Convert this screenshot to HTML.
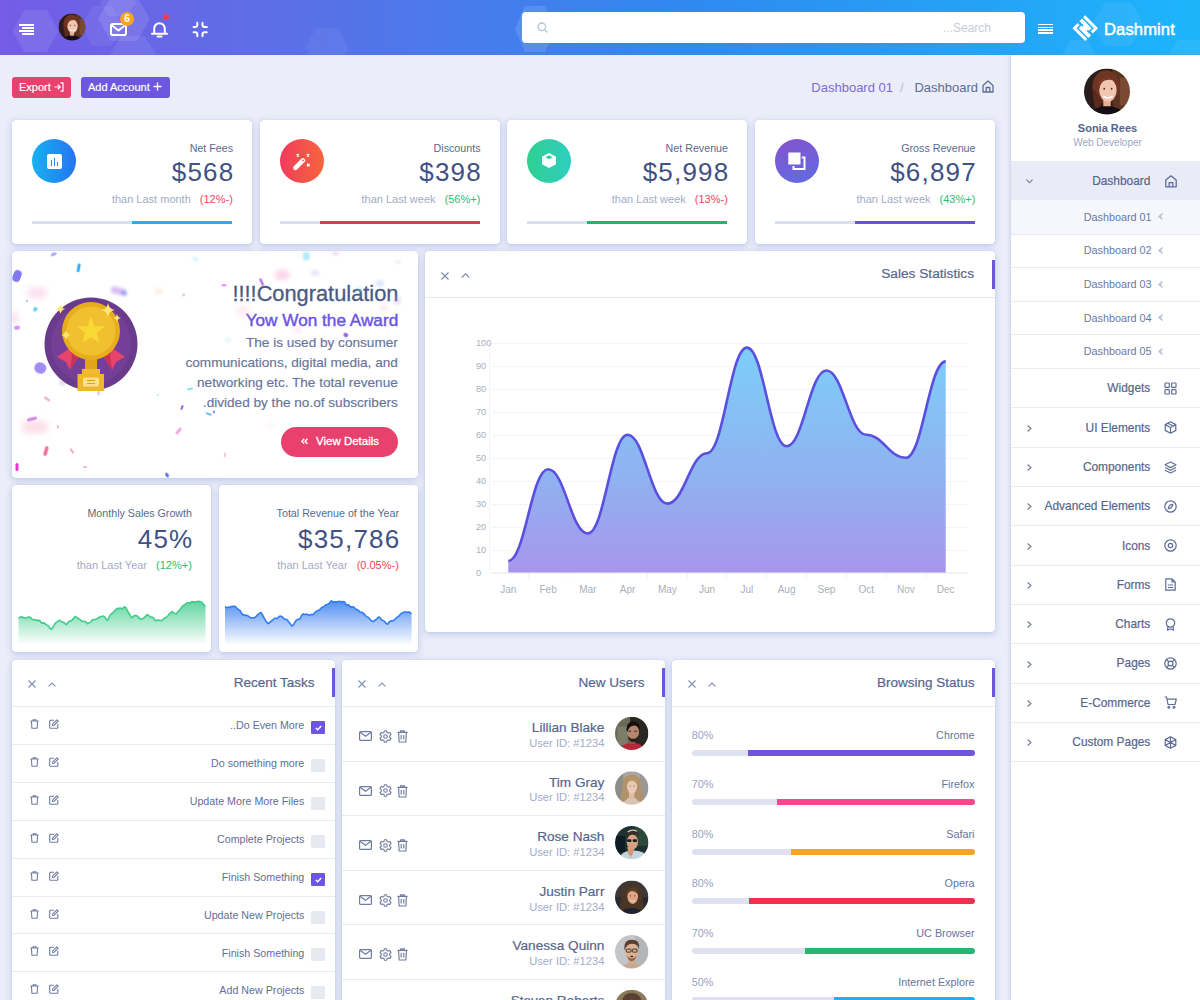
<!DOCTYPE html>
<html><head><meta charset="utf-8">
<style>
*{box-sizing:border-box;margin:0;padding:0}
html,body{width:1200px;height:1000px;overflow:hidden}
body{background:#ebedf8;font-family:"Liberation Sans",sans-serif;color:#4d5d88;position:relative}
.abs{position:absolute}
.hdr{position:absolute;left:0;top:0;width:1200px;height:55px;background:linear-gradient(90deg,#755ce6 0%,#5a70e8 25%,#2f8af0 58%,#1db5fb 100%);overflow:hidden}
.hex{position:absolute;background:rgba(255,255,255,.09);clip-path:polygon(25% 0,75% 0,100% 50%,75% 100%,25% 100%,0 50%)}
.card{position:absolute;background:#fff;border-radius:4px;box-shadow:0 0 1px rgba(100,130,200,.4),0 2px 7px rgba(80,120,210,.3)}
.t{position:absolute;white-space:nowrap;line-height:1}
.r{text-align:right}
svg{position:absolute;overflow:visible}
.sc{width:240px;height:124px}
.sc .ic{position:absolute;left:20px;top:19px;width:44px;height:44px;border-radius:50%}
.sc .ti{position:absolute;right:19px;top:23px;font-size:10.7px;line-height:1;color:#5a6a90;white-space:nowrap}
.sc .va{position:absolute;right:18.8px;top:39px;font-size:26px;line-height:1;color:#3f5185;letter-spacing:1.2px;margin-right:-1.2px;white-space:nowrap}
.sc .su{position:absolute;right:19.2px;top:73.8px;font-size:11px;line-height:1;color:#a3abc6;white-space:nowrap}
.rd{color:#f2445c;margin-left:9px}
.gr{color:#2fbd74;margin-left:9px}
.sc .pb{position:absolute;left:20px;top:101px;width:200px;height:3px;background:#dcdff0;overflow:hidden}
.sc .pb div{position:absolute;top:0;right:0;height:3px}
.pn .pbar{position:absolute;right:0;top:8px;width:3px;height:29px;background:#6e57e0}
.pn .pt{position:absolute;right:20.5px;top:16px;font-size:13.5px;line-height:1;color:#56668e;white-space:nowrap;-webkit-text-stroke:.2px #56668e}
.sep{position:absolute;left:0;width:100%;height:1px;background:#e8ebf4}
.tk{right:30.7px;font-size:10.7px;color:#5f6e96}
.un{right:60.6px;font-size:13.6px;color:#56668e;-webkit-text-stroke:.2px #56668e}
.ui{right:60.6px;font-size:11.2px;color:#a3acc8}
.bp{font-size:10.8px;color:#98a2bf}
.bn{right:20.5px;font-size:10.8px;color:#66749a}
.sm{right:49.7px;font-size:11.9px;color:#56668e;-webkit-text-stroke:.2px #56668e}
.ss{right:48.4px;font-size:10.8px;color:#6a789e}

</style></head><body>
<!-- HEADER -->
<div class="hdr">
  <div class="hex" style="left:12.5px;top:10px;width:46px;height:42px"></div>
  <div class="hex" style="left:98px;top:-3px;width:52px;height:44px;background:rgba(255,255,255,.11)"></div>
  <div class="hex" style="left:82px;top:6px;width:40px;height:40px;background:rgba(255,255,255,.06)"></div>
  <div class="hex" style="left:110px;top:36px;width:46px;height:36px;background:rgba(255,255,255,.08)"></div>
  <div class="hex" style="left:100px;top:-10px;width:36px;height:26px;background:rgba(255,255,255,.07)"></div>
  <div class="hex" style="left:515px;top:6px;width:40px;height:46px;background:rgba(255,255,255,.12)"></div>
  <div class="hex" style="left:305px;top:28px;width:44px;height:40px;background:rgba(255,255,255,.05)"></div>
  <div class="hex" style="left:1092px;top:2px;width:52px;height:44px;background:rgba(255,255,255,.06)"></div><div class="hex" style="left:1168px;top:40px;width:40px;height:30px;background:rgba(255,255,255,.06)"></div>
  <div class="hex" style="left:1062px;top:40px;width:34px;height:30px;background:rgba(255,255,255,.07)"></div>
  <!-- hamburger left -->
  <div class="abs" style="left:19px;top:24px;width:15px;height:1.6px;background:#fff"></div>
  <div class="abs" style="left:22px;top:27px;width:12px;height:1.6px;background:#fff"></div>
  <div class="abs" style="left:19px;top:30px;width:15px;height:1.6px;background:#fff"></div>
  <div class="abs" style="left:22px;top:33px;width:12px;height:1.6px;background:#fff"></div>
  <!-- avatar -->
  <!-- mail -->
  <svg style="left:110px;top:23px" width="17" height="13" viewBox="0 0 17 13"><rect x="1" y="1" width="15" height="11" rx="1.8" fill="none" stroke="#fff" stroke-width="2"/><path d="M1.5 2 L8.5 7.5 L15.5 2" fill="none" stroke="#fff" stroke-width="2" stroke-linejoin="round"/></svg>
  <div class="abs" style="left:120px;top:12px;width:14px;height:14px;border-radius:50%;background:#f5a524;color:#fff;font:bold 10px/14px 'Liberation Sans',sans-serif;text-align:center">6</div>
  <!-- bell -->
  <svg style="left:151px;top:21px" width="17" height="17" viewBox="0 0 17 17"><path d="M3.2 12.5 V7.5 A5.3 5.3 0 0 1 13.8 7.5 V12.5" fill="none" stroke="#fff" stroke-width="2"/><path d="M1 12.8 H16" stroke="#fff" stroke-width="2" stroke-linecap="round"/><path d="M6.5 15.5 H10.5" stroke="#fff" stroke-width="2" stroke-linecap="round"/></svg>
  <div class="abs" style="left:162.5px;top:14px;width:6px;height:6px;border-radius:50%;background:#f23a4e"></div>
  <!-- compress -->
  <svg style="left:192px;top:22px" width="16" height="15" viewBox="0 0 16 15"><path d="M5.3 0.8 V3 Q5.3 5 3.3 5 H1.6 M10.5 0.8 V3 Q10.5 5 12.5 5 H14.8 M1.6 10.3 H3.3 Q5.3 10.3 5.3 12.3 V14.3 M14.8 10.3 H12.5 Q10.5 10.3 10.5 12.3 V14.3" fill="none" stroke="#fff" stroke-width="2" stroke-linecap="round"/></svg>
  <!-- search -->
  <div class="abs" style="left:522px;top:12px;width:503px;height:31px;background:#fff;border-radius:4px"></div>
  <svg style="left:537px;top:22px" width="11" height="11" viewBox="0 0 11 11"><circle cx="4.8" cy="4.8" r="3.8" fill="none" stroke="#b9bfd3" stroke-width="1.3"/><path d="M7.6 7.6 L10 10" stroke="#b9bfd3" stroke-width="1.3" stroke-linecap="round"/></svg>
  <div class="t" style="left:900px;top:22px;width:91px;text-align:right;font-size:12px;color:#c6cbdb">...Search</div>
  <!-- hamburger right -->
  <div class="abs" style="left:1038px;top:23.5px;width:15px;height:1.7px;background:#fff"></div>
  <div class="abs" style="left:1038px;top:26.5px;width:15px;height:1.7px;background:#fff"></div>
  <div class="abs" style="left:1038px;top:29.3px;width:15px;height:1.7px;background:#fff"></div>
  <div class="abs" style="left:1038px;top:32.2px;width:15px;height:1.7px;background:#fff"></div>
  <!-- logo -->
  <svg style="left:0;top:0" width="1200" height="55"><g transform="translate(1085.2 28.2) rotate(45)" fill="#fff"><path d="M-9.1 -9.1 H9.1 V-1.6 H6.1 V-6.1 H-9.1 Z"/><path d="M9.1 9.1 H-9.1 V1.6 H-6.1 V6.1 H9.1 Z"/><path d="M-9.1 -4.6 H4.6 V-0.9 H3 V0.9 H9.1 V4.6 H-4.6 V0.9 H-3 V-0.9 H-9.1 Z"/></g></svg>
  <div class="t" style="left:1104px;top:21.5px;font-size:16.6px;color:#fff;-webkit-text-stroke:.5px #fff;letter-spacing:.1px">Dashmint</div>
</div>
<!-- TOOLBAR -->
<div class="abs" style="left:12px;top:77px;width:59px;height:21px;background:#e8416e;border-radius:3px"></div>
<div class="t" style="left:19px;top:82px;font-size:11px;color:#fff;-webkit-text-stroke:.2px #fff">Export</div>
<svg style="left:54px;top:82px" width="10" height="10" viewBox="0 0 10 10"><path d="M0.5 5 H6 M3.8 2.6 L6.2 5 L3.8 7.4 M6.5 0.8 H9 V9.2 H6.5" fill="none" stroke="#fff" stroke-width="1.2"/></svg>
<div class="abs" style="left:81px;top:77px;width:89px;height:21px;background:#6e57e0;border-radius:3px"></div>
<div class="t" style="left:88px;top:82px;font-size:11px;color:#fff;-webkit-text-stroke:.2px #fff">Add Account</div>
<svg style="left:153px;top:82px" width="9" height="9" viewBox="0 0 9 9"><path d="M4.5 0.5 V8.5 M0.5 4.5 H8.5" fill="none" stroke="#fff" stroke-width="1.3"/></svg>
<!-- breadcrumb -->
<div class="t" style="left:760px;top:81px;width:133px;text-align:right;font-size:13px;color:#7c6bd6">Dashboard 01</div>
<div class="t" style="left:900px;top:81px;font-size:13px;color:#b7bdd4">/</div>
<div class="t" style="left:850px;top:81px;width:128px;text-align:right;font-size:13px;color:#5d6c93">Dashboard</div>
<svg style="left:982px;top:80px" width="12" height="13" viewBox="0 0 12 13"><path d="M1 5.5 L6 1 L11 5.5 V12 H1 Z M4.2 12 V7.5 H7.8 V12" fill="none" stroke="#5d6c93" stroke-width="1.3" stroke-linejoin="round"/></svg>
<!-- STAT CARDS -->
<div class="card sc" style="left:12px;top:120px">
  <div class="ic" style="background:linear-gradient(90deg,#17b2f2,#2574f0)"><div class="abs" style="left:14.5px;top:14.5px;width:15px;height:15px;background:#fff;border-radius:2px"><div class="abs" style="left:4px;top:6px;width:1.6px;height:6px;background:#2a8cf0"></div><div class="abs" style="left:7px;top:4px;width:1.6px;height:8px;background:#2a8cf0"></div><div class="abs" style="left:10px;top:8px;width:1.6px;height:4px;background:#2a8cf0"></div></div></div>
  <div class="ti">Net Fees</div><div class="va">$568</div>
  <div class="su">than Last month<span class="rd">(12%-)</span></div>
  <div class="pb"><div style="left:50%;background:#1cb3f0"></div></div>
</div>
<div class="card sc" style="left:259.5px;top:120px">
  <div class="ic" style="background:linear-gradient(90deg,#f13c5e,#f6663b)"><svg style="left:12px;top:12px" width="20" height="20" viewBox="0 0 20 20"><rect x="-2.3" y="-7.5" width="4.6" height="15" rx="2.2" fill="#fff" transform="translate(7.2 13.2) rotate(45)"/><circle cx="11" cy="9.4" r="0.9" fill="#f2505a"/><path d="M4.6 3.1 L7 5.5 M7 3.1 L4.6 5.5 M14.8 3.1 L17.2 5.5 M17.2 3.1 L14.8 5.5 M15.1 12.8 L17.5 15.2 M17.5 12.8 L15.1 15.2" stroke="#fff" stroke-width="1.3"/></svg></div>
  <div class="ti">Discounts</div><div class="va">$398</div>
  <div class="su">than Last week<span class="gr">(56%+)</span></div>
  <div class="pb"><div style="left:20%;background:#e9344f"></div></div>
</div>
<div class="card sc" style="left:507px;top:120px">
  <div class="ic" style="background:linear-gradient(90deg,#2fcf92,#2fcec0)"><svg style="left:14px;top:13px" width="16" height="17" viewBox="0 0 16 17"><path d="M8 1 L15 4.8 V12.2 L8 16 L1 12.2 V4.8 Z" fill="#fff"/><path d="M8 3.3 L11.6 5.3 L8 7.3 L4.4 5.3 Z" fill="#30cfa8"/></svg></div>
  <div class="ti">Net Revenue</div><div class="va">$5,998</div>
  <div class="su">than Last week<span class="rd">(13%-)</span></div>
  <div class="pb"><div style="left:30%;background:#27b56e"></div></div>
</div>
<div class="card sc" style="left:754.5px;top:120px">
  <div class="ic" style="background:linear-gradient(160deg,#8652cf,#5e6de0)"><svg style="left:13px;top:13px" width="18" height="18" viewBox="0 0 18 18"><rect x="0.3" y="0.5" width="12.2" height="12" fill="#fff"/><path d="M13.8 5.4 H16.5 V16.9 H5.5 V14" fill="none" stroke="#fff" stroke-width="2"/></svg></div>
  <div class="ti">Gross Revenue</div><div class="va">$6,897</div>
  <div class="su">than Last week<span class="gr">(43%+)</span></div>
  <div class="pb"><div style="left:40%;background:#6b52de"></div></div>
</div>

<!-- ROW 2 -->
<div class="card" style="left:12px;top:251px;width:406px;height:227px;overflow:hidden" id="congrats">
  <div class="t" style="right:19.6px;top:31.9px;font-size:21.8px;color:#4a5a84;-webkit-text-stroke:.3px #4a5a84">!!!!Congratulation</div>
  <div class="t" style="right:19.8px;top:60.8px;font-size:17.2px;color:#6c55e0;-webkit-text-stroke:.45px #6c55e0">Yow Won the Award</div>
  <div class="abs" style="right:20.2px;top:82.3px;width:300px;text-align:right;font-size:13.6px;line-height:20px;color:#66749b;-webkit-text-stroke:.15px #66749b">The is used by consumer<br>communications, digital media, and<br>networking etc. The total revenue<br>.divided by the no.of subscribers</div>
  <div class="abs" style="left:269px;top:175.6px;width:116.6px;height:30.4px;border-radius:15.2px;background:#e8416e"></div>
  <div class="t" style="left:304px;top:184.8px;font-size:11.5px;color:#fff;-webkit-text-stroke:.3px #fff">View Details</div>
  <svg style="left:288.5px;top:187px" width="7" height="7" viewBox="0 0 7 7"><path d="M3.2 0.8 L0.9 3.3 L3.2 5.8 M6.4 0.8 L4.1 3.3 L6.4 5.8" fill="none" stroke="#fff" stroke-width="1.4"/></svg>
</div>
<div class="card" style="left:425px;top:251px;width:570px;height:381px" id="sales">
  <div class="abs" style="left:0;top:46px;width:570px;height:1px;background:#e6e9f3"></div>
  <div class="abs" style="left:567px;top:9px;width:3px;height:29px;background:#6e57e0"></div>
  <div class="t" style="right:21px;top:267.2px;top:16.2px;font-size:13.7px;color:#56668e;-webkit-text-stroke:.2px #56668e">Sales Statistics</div>
  <svg style="left:15.5px;top:21px" width="8" height="8" viewBox="0 0 8 8"><path d="M0.5 0.5 L7.5 7.5 M7.5 0.5 L0.5 7.5" stroke="#7f8bb0" stroke-width="1.2"/></svg>
  <svg style="left:35.5px;top:22px" width="9" height="5" viewBox="0 0 9 5"><path d="M0.7 4.5 L4.5 0.8 L8.3 4.5" fill="none" stroke="#7f8bb0" stroke-width="1.2"/></svg>
</div>
<div class="card sc" style="left:12px;top:485px;width:199px;height:167px">
  <div class="ti">Monthly Sales Growth</div><div class="va" style="top:41px">45%</div>
  <div class="su" style="top:75px">than Last Year<span class="gr">(12%+)</span></div>
</div>
<div class="card sc" style="left:218.5px;top:485px;width:199.5px;height:167px">
  <div class="ti">Total Revenue of the Year</div><div class="va" style="top:41px">$35,786</div>
  <div class="su" style="top:75px">than Last Year<span class="rd">(0.05%-)</span></div>
</div>
<!-- OVERLAY SVG (page coords) -->
<svg style="left:0;top:0" width="1200" height="1000" viewBox="0 0 1200 1000">
  <defs>
    <linearGradient id="gS" x1="0" y1="343" x2="0" y2="572.5" gradientUnits="userSpaceOnUse"><stop offset="0" stop-color="#7ccff8"/><stop offset="0.6" stop-color="#90b1f0"/><stop offset="1" stop-color="#a895ec"/></linearGradient>
    <linearGradient id="gG" x1="0" y1="600" x2="0" y2="645" gradientUnits="userSpaceOnUse"><stop offset="0" stop-color="#3fcb8a" stop-opacity=".85"/><stop offset="1" stop-color="#3fcb8a" stop-opacity="0"/></linearGradient>
    <linearGradient id="gB" x1="0" y1="600" x2="0" y2="645" gradientUnits="userSpaceOnUse"><stop offset="0" stop-color="#3a7ff0" stop-opacity=".9"/><stop offset="1" stop-color="#3a7ff0" stop-opacity="0"/></linearGradient>
    <clipPath id="cC"><rect x="12" y="251" width="406" height="227" rx="4"/></clipPath>
  </defs>
  <!-- sales chart grid -->
  <g stroke="#f3f4f9" stroke-width="1">
    <path d="M491 343.5 H968 M491 366.5 H968 M491 389.5 H968 M491 412.5 H968 M491 435.5 H968 M491 458.5 H968 M491 481.5 H968 M491 504.5 H968 M491 527.5 H968 M491 550.5 H968"/>
    <path d="M489.5 343 V573" />
  </g>
  <path d="M491 573 H968" stroke="#e3e6ef" stroke-width="1"/>
  <g stroke="#eef0f5"><path d="M528.5 573 V578 M568 573 V578 M608 573 V578 M647.5 573 V578 M687.5 573 V578 M727 573 V578 M767 573 V578 M806.5 573 V578 M846.5 573 V578 M886 573 V578 M926 573 V578"/></g>
  <g font-family="Liberation Sans" font-size="9.2" fill="#a9afc0">
    <text x="476" y="346">100</text><text x="476" y="369">90</text><text x="476" y="392">80</text><text x="476" y="415">70</text><text x="476" y="438">60</text><text x="476" y="461">50</text><text x="476" y="484">40</text><text x="476" y="507">30</text><text x="476" y="530">20</text><text x="476" y="553">10</text><text x="476" y="576">0</text>
  </g>
  <g font-family="Liberation Sans" font-size="10" fill="#a9afc0" text-anchor="middle">
    <text x="508.3" y="593.3">Jan</text><text x="548.1" y="593.3">Feb</text><text x="587.8" y="593.3">Mar</text><text x="627.6" y="593.3">Apr</text><text x="667.4" y="593.3">May</text><text x="707.1" y="593.3">Jun</text><text x="746.9" y="593.3">Jul</text><text x="786.6" y="593.3">Aug</text><text x="826.4" y="593.3">Sep</text><text x="866.2" y="593.3">Oct</text><text x="905.9" y="593.3">Nov</text><text x="945.7" y="593.3">Dec</text>
  </g>
  <path d="M508.3,561.0 C525.0,561.0 531.4,469.2 548.1,469.2 C564.8,469.2 571.1,533.5 587.8,533.5 C604.5,533.5 610.9,434.8 627.6,434.8 C644.3,434.8 650.7,503.6 667.4,503.6 C684.1,503.6 690.4,453.2 707.1,453.2 C723.8,453.2 730.2,347.6 746.9,347.6 C763.6,347.6 769.9,446.3 786.6,446.3 C803.3,446.3 809.7,370.5 826.4,370.5 C843.1,370.5 849.5,434.8 866.2,434.8 C882.9,434.8 889.2,457.8 905.9,457.8 C922.6,457.8 929.0,361.4 945.7,361.4 L945.7,572.5 L508.3,572.5 Z" fill="url(#gS)"/>
  <path d="M508.3,561.0 C525.0,561.0 531.4,469.2 548.1,469.2 C564.8,469.2 571.1,533.5 587.8,533.5 C604.5,533.5 610.9,434.8 627.6,434.8 C644.3,434.8 650.7,503.6 667.4,503.6 C684.1,503.6 690.4,453.2 707.1,453.2 C723.8,453.2 730.2,347.6 746.9,347.6 C763.6,347.6 769.9,446.3 786.6,446.3 C803.3,446.3 809.7,370.5 826.4,370.5 C843.1,370.5 849.5,434.8 866.2,434.8 C882.9,434.8 889.2,457.8 905.9,457.8 C922.6,457.8 929.0,361.4 945.7,361.4" fill="none" stroke="#5b4fdf" stroke-width="2.6"/>
  <!-- sparklines -->
  <path d="M18.5,617.7 L19.5,617.7 L20.6,617.0 L21.6,616.7 L22.7,617.2 L23.7,617.8 L24.8,618.0 L25.8,618.1 L26.9,617.8 L27.9,617.2 L28.9,616.9 L30.0,617.3 L31.0,618.1 L32.1,619.2 L33.1,619.5 L34.2,619.9 L35.2,619.7 L36.3,620.0 L37.3,620.6 L38.3,620.4 L39.4,620.3 L40.4,621.6 L41.5,622.9 L42.5,622.9 L43.6,622.7 L44.6,623.3 L45.7,624.4 L46.7,624.9 L47.8,625.4 L48.8,626.6 L49.8,628.2 L50.9,629.1 L51.9,628.9 L53.0,627.1 L54.0,625.4 L55.1,623.6 L56.1,622.5 L57.2,621.9 L58.2,621.2 L59.2,620.3 L60.3,620.6 L61.3,621.8 L62.4,622.2 L63.4,622.3 L64.5,623.2 L65.5,624.1 L66.6,624.6 L67.6,623.3 L68.6,621.8 L69.7,621.3 L70.7,621.1 L71.8,620.3 L72.8,619.2 L73.9,618.2 L74.9,616.6 L76.0,617.0 L77.0,617.7 L78.0,618.3 L79.1,619.0 L80.1,619.6 L81.2,620.8 L82.2,621.4 L83.3,621.4 L84.3,621.5 L85.4,621.5 L86.4,622.5 L87.4,623.7 L88.5,623.0 L89.5,622.8 L90.6,622.1 L91.6,620.6 L92.7,619.6 L93.7,619.6 L94.8,619.6 L95.8,619.2 L96.9,618.7 L97.9,618.3 L98.9,617.4 L100.0,616.9 L101.0,616.8 L102.1,616.2 L103.1,616.1 L104.2,616.5 L105.2,617.5 L106.3,619.1 L107.3,620.7 L108.3,618.9 L109.4,616.5 L110.4,614.6 L111.5,613.8 L112.5,613.2 L113.6,611.9 L114.6,610.8 L115.7,609.8 L116.7,608.6 L117.7,608.6 L118.8,608.5 L119.8,607.9 L120.9,608.2 L121.9,608.9 L123.0,608.2 L124.0,607.1 L125.1,607.1 L126.1,607.9 L127.1,610.3 L128.2,612.0 L129.2,613.5 L130.3,615.8 L131.3,617.7 L132.4,617.2 L133.4,616.3 L134.5,615.7 L135.5,615.4 L136.6,615.5 L137.6,616.3 L138.6,617.4 L139.7,618.6 L140.7,619.1 L141.8,619.1 L142.8,618.6 L143.9,617.8 L144.9,616.9 L146.0,615.8 L147.0,614.9 L148.0,614.9 L149.1,615.9 L150.1,616.5 L151.2,617.0 L152.2,617.3 L153.3,617.8 L154.3,619.2 L155.4,620.5 L156.4,620.4 L157.4,620.1 L158.5,620.3 L159.5,620.4 L160.6,620.5 L161.6,620.6 L162.7,619.9 L163.7,618.8 L164.8,618.0 L165.8,617.5 L166.8,616.9 L167.9,615.8 L168.9,614.4 L170.0,613.5 L171.0,612.4 L172.1,611.6 L173.1,612.5 L174.2,613.1 L175.2,613.6 L176.2,614.1 L177.3,612.5 L178.3,611.3 L179.4,610.4 L180.4,609.0 L181.5,607.5 L182.5,606.2 L183.6,605.3 L184.6,604.8 L185.7,604.0 L186.7,603.4 L187.7,602.8 L188.8,602.7 L189.8,603.2 L190.9,602.2 L191.9,601.6 L193.0,602.0 L194.0,601.8 L195.1,601.9 L196.1,602.1 L197.1,601.5 L198.2,601.2 L199.2,601.4 L200.3,601.9 L201.3,602.0 L202.4,602.8 L203.4,604.3 L204.5,605.6 L205.5,606.2 L205.5,645 L18.5,645 Z" fill="url(#gG)"/>
  <path d="M18.5,617.7 L19.5,617.7 L20.6,617.0 L21.6,616.7 L22.7,617.2 L23.7,617.8 L24.8,618.0 L25.8,618.1 L26.9,617.8 L27.9,617.2 L28.9,616.9 L30.0,617.3 L31.0,618.1 L32.1,619.2 L33.1,619.5 L34.2,619.9 L35.2,619.7 L36.3,620.0 L37.3,620.6 L38.3,620.4 L39.4,620.3 L40.4,621.6 L41.5,622.9 L42.5,622.9 L43.6,622.7 L44.6,623.3 L45.7,624.4 L46.7,624.9 L47.8,625.4 L48.8,626.6 L49.8,628.2 L50.9,629.1 L51.9,628.9 L53.0,627.1 L54.0,625.4 L55.1,623.6 L56.1,622.5 L57.2,621.9 L58.2,621.2 L59.2,620.3 L60.3,620.6 L61.3,621.8 L62.4,622.2 L63.4,622.3 L64.5,623.2 L65.5,624.1 L66.6,624.6 L67.6,623.3 L68.6,621.8 L69.7,621.3 L70.7,621.1 L71.8,620.3 L72.8,619.2 L73.9,618.2 L74.9,616.6 L76.0,617.0 L77.0,617.7 L78.0,618.3 L79.1,619.0 L80.1,619.6 L81.2,620.8 L82.2,621.4 L83.3,621.4 L84.3,621.5 L85.4,621.5 L86.4,622.5 L87.4,623.7 L88.5,623.0 L89.5,622.8 L90.6,622.1 L91.6,620.6 L92.7,619.6 L93.7,619.6 L94.8,619.6 L95.8,619.2 L96.9,618.7 L97.9,618.3 L98.9,617.4 L100.0,616.9 L101.0,616.8 L102.1,616.2 L103.1,616.1 L104.2,616.5 L105.2,617.5 L106.3,619.1 L107.3,620.7 L108.3,618.9 L109.4,616.5 L110.4,614.6 L111.5,613.8 L112.5,613.2 L113.6,611.9 L114.6,610.8 L115.7,609.8 L116.7,608.6 L117.7,608.6 L118.8,608.5 L119.8,607.9 L120.9,608.2 L121.9,608.9 L123.0,608.2 L124.0,607.1 L125.1,607.1 L126.1,607.9 L127.1,610.3 L128.2,612.0 L129.2,613.5 L130.3,615.8 L131.3,617.7 L132.4,617.2 L133.4,616.3 L134.5,615.7 L135.5,615.4 L136.6,615.5 L137.6,616.3 L138.6,617.4 L139.7,618.6 L140.7,619.1 L141.8,619.1 L142.8,618.6 L143.9,617.8 L144.9,616.9 L146.0,615.8 L147.0,614.9 L148.0,614.9 L149.1,615.9 L150.1,616.5 L151.2,617.0 L152.2,617.3 L153.3,617.8 L154.3,619.2 L155.4,620.5 L156.4,620.4 L157.4,620.1 L158.5,620.3 L159.5,620.4 L160.6,620.5 L161.6,620.6 L162.7,619.9 L163.7,618.8 L164.8,618.0 L165.8,617.5 L166.8,616.9 L167.9,615.8 L168.9,614.4 L170.0,613.5 L171.0,612.4 L172.1,611.6 L173.1,612.5 L174.2,613.1 L175.2,613.6 L176.2,614.1 L177.3,612.5 L178.3,611.3 L179.4,610.4 L180.4,609.0 L181.5,607.5 L182.5,606.2 L183.6,605.3 L184.6,604.8 L185.7,604.0 L186.7,603.4 L187.7,602.8 L188.8,602.7 L189.8,603.2 L190.9,602.2 L191.9,601.6 L193.0,602.0 L194.0,601.8 L195.1,601.9 L196.1,602.1 L197.1,601.5 L198.2,601.2 L199.2,601.4 L200.3,601.9 L201.3,602.0 L202.4,602.8 L203.4,604.3 L204.5,605.6 L205.5,606.2" fill="none" stroke="#42cb8a" stroke-width="1.6" stroke-linejoin="round"/>
  <path d="M225.0,606.8 L226.0,607.2 L227.1,607.7 L228.1,607.2 L229.2,607.1 L230.2,607.2 L231.3,606.5 L232.3,606.3 L233.3,606.6 L234.4,606.3 L235.4,606.6 L236.5,607.7 L237.5,608.9 L238.6,609.7 L239.6,610.0 L240.6,611.3 L241.7,613.5 L242.7,614.6 L243.8,614.7 L244.8,615.3 L245.8,615.4 L246.9,615.4 L247.9,615.8 L249.0,616.6 L250.0,617.5 L251.1,617.8 L252.1,617.7 L253.1,617.7 L254.2,617.9 L255.2,617.2 L256.3,616.3 L257.3,615.1 L258.4,614.1 L259.4,613.3 L260.4,612.5 L261.5,612.9 L262.5,615.0 L263.6,617.0 L264.6,618.8 L265.7,620.7 L266.7,622.0 L267.7,623.4 L268.8,623.4 L269.8,622.3 L270.9,621.3 L271.9,620.5 L273.0,619.7 L274.0,618.9 L275.0,618.2 L276.1,618.2 L277.1,618.4 L278.2,617.5 L279.2,616.4 L280.3,616.1 L281.3,616.4 L282.3,616.9 L283.4,618.0 L284.4,619.1 L285.5,619.5 L286.5,619.4 L287.5,620.2 L288.6,621.9 L289.6,623.0 L290.7,624.3 L291.7,626.0 L292.8,625.3 L293.8,624.4 L294.8,622.4 L295.9,620.7 L296.9,620.0 L298.0,619.4 L299.0,619.3 L300.1,618.7 L301.1,616.5 L302.1,614.6 L303.2,613.9 L304.2,614.5 L305.3,614.4 L306.3,614.0 L307.4,614.5 L308.4,615.1 L309.4,614.9 L310.5,614.6 L311.5,614.6 L312.6,614.7 L313.6,614.2 L314.7,612.8 L315.7,611.8 L316.7,611.0 L317.8,610.5 L318.8,610.3 L319.9,609.3 L320.9,608.3 L321.9,607.4 L323.0,606.9 L324.0,606.5 L325.1,605.5 L326.1,604.7 L327.2,604.4 L328.2,604.0 L329.2,603.3 L330.3,601.9 L331.3,600.9 L332.4,601.5 L333.4,602.1 L334.5,601.8 L335.5,601.9 L336.5,602.1 L337.6,601.6 L338.6,601.5 L339.7,601.5 L340.7,601.4 L341.8,602.1 L342.8,601.9 L343.8,601.5 L344.9,602.4 L345.9,604.3 L347.0,605.1 L348.0,604.6 L349.1,605.2 L350.1,606.5 L351.1,606.9 L352.2,606.9 L353.2,606.9 L354.3,607.5 L355.3,608.7 L356.3,609.5 L357.4,609.6 L358.4,610.3 L359.5,611.6 L360.5,612.1 L361.6,612.3 L362.6,612.7 L363.6,613.4 L364.7,614.6 L365.7,615.9 L366.8,616.6 L367.8,617.1 L368.9,617.9 L369.9,619.2 L370.9,620.3 L372.0,621.1 L373.0,621.5 L374.1,621.2 L375.1,619.8 L376.2,619.5 L377.2,618.5 L378.2,617.1 L379.3,617.2 L380.3,618.1 L381.4,619.8 L382.4,620.3 L383.5,620.5 L384.5,621.5 L385.5,622.6 L386.6,623.8 L387.6,624.2 L388.7,622.8 L389.7,621.5 L390.8,621.1 L391.8,620.9 L392.8,620.7 L393.9,620.3 L394.9,619.3 L396.0,618.2 L397.0,617.4 L398.0,616.6 L399.1,615.8 L400.1,614.6 L401.2,613.5 L402.2,612.9 L403.3,612.4 L404.3,612.0 L405.3,612.0 L406.4,612.1 L407.4,612.3 L408.5,612.0 L409.5,612.1 L410.6,613.1 L411.6,613.6 L411.6,645 L225.0,645 Z" fill="url(#gB)"/>
  <path d="M225.0,606.8 L226.0,607.2 L227.1,607.7 L228.1,607.2 L229.2,607.1 L230.2,607.2 L231.3,606.5 L232.3,606.3 L233.3,606.6 L234.4,606.3 L235.4,606.6 L236.5,607.7 L237.5,608.9 L238.6,609.7 L239.6,610.0 L240.6,611.3 L241.7,613.5 L242.7,614.6 L243.8,614.7 L244.8,615.3 L245.8,615.4 L246.9,615.4 L247.9,615.8 L249.0,616.6 L250.0,617.5 L251.1,617.8 L252.1,617.7 L253.1,617.7 L254.2,617.9 L255.2,617.2 L256.3,616.3 L257.3,615.1 L258.4,614.1 L259.4,613.3 L260.4,612.5 L261.5,612.9 L262.5,615.0 L263.6,617.0 L264.6,618.8 L265.7,620.7 L266.7,622.0 L267.7,623.4 L268.8,623.4 L269.8,622.3 L270.9,621.3 L271.9,620.5 L273.0,619.7 L274.0,618.9 L275.0,618.2 L276.1,618.2 L277.1,618.4 L278.2,617.5 L279.2,616.4 L280.3,616.1 L281.3,616.4 L282.3,616.9 L283.4,618.0 L284.4,619.1 L285.5,619.5 L286.5,619.4 L287.5,620.2 L288.6,621.9 L289.6,623.0 L290.7,624.3 L291.7,626.0 L292.8,625.3 L293.8,624.4 L294.8,622.4 L295.9,620.7 L296.9,620.0 L298.0,619.4 L299.0,619.3 L300.1,618.7 L301.1,616.5 L302.1,614.6 L303.2,613.9 L304.2,614.5 L305.3,614.4 L306.3,614.0 L307.4,614.5 L308.4,615.1 L309.4,614.9 L310.5,614.6 L311.5,614.6 L312.6,614.7 L313.6,614.2 L314.7,612.8 L315.7,611.8 L316.7,611.0 L317.8,610.5 L318.8,610.3 L319.9,609.3 L320.9,608.3 L321.9,607.4 L323.0,606.9 L324.0,606.5 L325.1,605.5 L326.1,604.7 L327.2,604.4 L328.2,604.0 L329.2,603.3 L330.3,601.9 L331.3,600.9 L332.4,601.5 L333.4,602.1 L334.5,601.8 L335.5,601.9 L336.5,602.1 L337.6,601.6 L338.6,601.5 L339.7,601.5 L340.7,601.4 L341.8,602.1 L342.8,601.9 L343.8,601.5 L344.9,602.4 L345.9,604.3 L347.0,605.1 L348.0,604.6 L349.1,605.2 L350.1,606.5 L351.1,606.9 L352.2,606.9 L353.2,606.9 L354.3,607.5 L355.3,608.7 L356.3,609.5 L357.4,609.6 L358.4,610.3 L359.5,611.6 L360.5,612.1 L361.6,612.3 L362.6,612.7 L363.6,613.4 L364.7,614.6 L365.7,615.9 L366.8,616.6 L367.8,617.1 L368.9,617.9 L369.9,619.2 L370.9,620.3 L372.0,621.1 L373.0,621.5 L374.1,621.2 L375.1,619.8 L376.2,619.5 L377.2,618.5 L378.2,617.1 L379.3,617.2 L380.3,618.1 L381.4,619.8 L382.4,620.3 L383.5,620.5 L384.5,621.5 L385.5,622.6 L386.6,623.8 L387.6,624.2 L388.7,622.8 L389.7,621.5 L390.8,621.1 L391.8,620.9 L392.8,620.7 L393.9,620.3 L394.9,619.3 L396.0,618.2 L397.0,617.4 L398.0,616.6 L399.1,615.8 L400.1,614.6 L401.2,613.5 L402.2,612.9 L403.3,612.4 L404.3,612.0 L405.3,612.0 L406.4,612.1 L407.4,612.3 L408.5,612.0 L409.5,612.1 L410.6,613.1 L411.6,613.6" fill="none" stroke="#2f7ef0" stroke-width="1.6" stroke-linejoin="round"/>
  <!-- trophy -->
  <g clip-path="url(#cC)"><defs><filter id="bl0_2" x="-100%" y="-100%" width="300%" height="300%"><feGaussianBlur stdDeviation="0.2"/></filter><filter id="bl0_3" x="-100%" y="-100%" width="300%" height="300%"><feGaussianBlur stdDeviation="0.3"/></filter><filter id="bl0_4" x="-100%" y="-100%" width="300%" height="300%"><feGaussianBlur stdDeviation="0.4"/></filter><filter id="bl0_5" x="-100%" y="-100%" width="300%" height="300%"><feGaussianBlur stdDeviation="0.5"/></filter><filter id="bl0_6" x="-100%" y="-100%" width="300%" height="300%"><feGaussianBlur stdDeviation="0.6"/></filter><filter id="bl0_8" x="-100%" y="-100%" width="300%" height="300%"><feGaussianBlur stdDeviation="0.8"/></filter><filter id="bl1" x="-100%" y="-100%" width="300%" height="300%"><feGaussianBlur stdDeviation="1"/></filter><filter id="bl1_2" x="-100%" y="-100%" width="300%" height="300%"><feGaussianBlur stdDeviation="1.2"/></filter><filter id="bl1_5" x="-100%" y="-100%" width="300%" height="300%"><feGaussianBlur stdDeviation="1.5"/></filter><filter id="bl2" x="-100%" y="-100%" width="300%" height="300%"><feGaussianBlur stdDeviation="2"/></filter><filter id="bl2_2" x="-100%" y="-100%" width="300%" height="300%"><feGaussianBlur stdDeviation="2.2"/></filter><filter id="bl2_5" x="-100%" y="-100%" width="300%" height="300%"><feGaussianBlur stdDeviation="2.5"/></filter><filter id="bl3" x="-100%" y="-100%" width="300%" height="300%"><feGaussianBlur stdDeviation="3"/></filter><filter id="bl3_5" x="-100%" y="-100%" width="300%" height="300%"><feGaussianBlur stdDeviation="3.5"/></filter></defs><rect x="13.0" y="270.0" width="8" height="12" rx="4.0" fill="#6a62f2" opacity="0.85" transform="rotate(20 17 276)" filter="url(#bl0_5)"/><rect x="77.2" y="263.2" width="3" height="9" rx="1.5" fill="#22a8f0" opacity="0.9" transform="rotate(10 78.7 267.7)" filter="url(#bl0_3)"/><rect x="50.7" y="252.8" width="6" height="3" rx="1.5" fill="#6a7af0" opacity="0.6" transform="rotate(-25 53.7 254.3)" filter="url(#bl0_4)"/><rect x="110.7" y="287.5" width="16" height="7" rx="3.5" fill="#b888f0" opacity="0.55" transform="rotate(15 118.7 291)" filter="url(#bl1_5)"/><rect x="121.0" y="291.0" width="6" height="4" rx="2.0" fill="#5a8af0" opacity="0.5" transform="rotate(30 124 293)" filter="url(#bl0_8)"/><rect x="27.0" y="287.2" width="20" height="11" rx="5.5" fill="#f6b8dc" opacity="0.45" transform="rotate(0 37 292.7)" filter="url(#bl3)"/><rect x="33.3" y="306.8" width="4" height="5" rx="2.0" fill="#30c0f0" opacity="0.7" transform="rotate(30 35.3 309.3)" filter="url(#bl0_5)"/><rect x="14.0" y="325.7" width="6" height="4" rx="2.0" fill="#c060f0" opacity="0.7" transform="rotate(-10 17 327.7)" filter="url(#bl0_5)"/><rect x="154.7" y="288.0" width="8" height="6" rx="3.0" fill="#f8d8b8" opacity="0.4" transform="rotate(0 158.7 291)" filter="url(#bl1_5)"/><rect x="182.2" y="293.5" width="3" height="3" rx="1.5" fill="#b070e0" opacity="0.4" transform="rotate(0 183.7 295)" filter="url(#bl0_5)"/><rect x="192.3" y="257.3" width="6" height="4" rx="2.0" fill="#80e0f0" opacity="0.35" transform="rotate(20 195.3 259.3)" filter="url(#bl1)"/><rect x="34.3" y="362.5" width="12" height="11" rx="5.5" fill="#8a70f0" opacity="0.8" transform="rotate(25 40.3 368)" filter="url(#bl0_6)"/><rect x="26.0" y="300.0" width="2" height="2" rx="1.0" fill="#4080f0" opacity="0.6" transform="rotate(0 27 301)" filter="url(#bl0_2)"/><rect x="9.0" y="311.0" width="10" height="14" rx="5.0" fill="#f0c0e0" opacity="0.35" transform="rotate(0 14 318)" filter="url(#bl2_5)"/><rect x="59.0" y="380.5" width="6" height="5" rx="2.5" fill="#c8a0f0" opacity="0.4" transform="rotate(20 62 383)" filter="url(#bl1)"/><rect x="43.5" y="397.8" width="7" height="2.5" rx="1.2" fill="#f088b0" opacity="0.7" transform="rotate(35 47 399)" filter="url(#bl0_4)"/><rect x="27.0" y="417.5" width="10" height="3" rx="1.5" fill="#c050f0" opacity="0.75" transform="rotate(-15 32 419)" filter="url(#bl0_4)"/><rect x="22.0" y="421.0" width="26" height="12" rx="6.0" fill="#f8b0c8" opacity="0.45" transform="rotate(0 35 427)" filter="url(#bl3_5)"/><rect x="57.0" y="424.7" width="1.5" height="4" rx="0.8" fill="#f06080" opacity="0.5" transform="rotate(0 57.8 426.7)" filter="url(#bl0_3)"/><rect x="44.2" y="446.0" width="3.5" height="10" rx="1.8" fill="#f04070" opacity="0.75" transform="rotate(15 46 451)" filter="url(#bl0_4)"/><rect x="71.0" y="448.0" width="2" height="6" rx="1.0" fill="#f07090" opacity="0.6" transform="rotate(-35 72 451)" filter="url(#bl0_3)"/><rect x="83.0" y="466.0" width="4" height="2" rx="1.0" fill="#f080a0" opacity="0.55" transform="rotate(0 85 467)" filter="url(#bl0_3)"/><rect x="15.5" y="463.0" width="3" height="8" rx="1.5" fill="#e020d0" opacity="0.9" transform="rotate(0 17 467)" filter="url(#bl0_3)"/><rect x="165.5" y="472.5" width="3" height="5" rx="1.5" fill="#3050e0" opacity="0.8" transform="rotate(-30 167 475)" filter="url(#bl0_3)"/><rect x="187.0" y="388.0" width="6" height="2" rx="1.0" fill="#30d0e0" opacity="0.6" transform="rotate(-10 190 389)" filter="url(#bl0_4)"/><rect x="181.0" y="405.0" width="2" height="5" rx="1.0" fill="#8030e0" opacity="0.8" transform="rotate(20 182 407.5)" filter="url(#bl0_3)"/><rect x="177.2" y="427.0" width="3" height="8" rx="1.5" fill="#f070c0" opacity="0.6" transform="rotate(40 178.7 431)" filter="url(#bl0_4)"/><rect x="205.7" y="413.0" width="6" height="2" rx="1.0" fill="#30a0f0" opacity="0.7" transform="rotate(20 208.7 414)" filter="url(#bl0_3)"/><rect x="157.0" y="394.0" width="2" height="2" rx="1.0" fill="#40d0e0" opacity="0.4" transform="rotate(0 158 395)" filter="url(#bl0_3)"/><rect x="97.2" y="390.5" width="3" height="5" rx="1.5" fill="#c8a0f0" opacity="0.5" transform="rotate(0 98.7 393)" filter="url(#bl0_5)"/><rect x="260.4" y="278.0" width="2.5" height="8" rx="1.2" fill="#b040e0" opacity="0.75" transform="rotate(-25 261.7 282)" filter="url(#bl0_3)"/><rect x="221.5" y="284.3" width="5" height="2" rx="1.0" fill="#c040e0" opacity="0.6" transform="rotate(0 224 285.3)" filter="url(#bl0_3)"/><rect x="274.8" y="269.5" width="15" height="11" rx="5.5" fill="#f4a0d0" opacity="0.4" transform="rotate(0 282.3 275)" filter="url(#bl2_2)"/><rect x="302.8" y="251.5" width="7" height="9" rx="3.5" fill="#60d0f0" opacity="0.45" transform="rotate(0 306.3 256)" filter="url(#bl1_2)"/><rect x="332.0" y="251.6" width="7" height="4" rx="2.0" fill="#d0a0f0" opacity="0.35" transform="rotate(0 335.5 253.6)" filter="url(#bl1)"/><rect x="376.0" y="280.1" width="8" height="7" rx="3.5" fill="#a0b8f8" opacity="0.35" transform="rotate(0 380 283.6)" filter="url(#bl1_5)"/><rect x="393.0" y="296.7" width="8" height="8" rx="4.0" fill="#c0a0f0" opacity="0.3" transform="rotate(0 397 300.7)" filter="url(#bl1_5)"/><rect x="343.3" y="333.0" width="5" height="4" rx="2.0" fill="#8040e0" opacity="0.8" transform="rotate(35 345.8 335)" filter="url(#bl0_3)"/><rect x="379.0" y="304.1" width="9" height="7" rx="3.5" fill="#f8b0d0" opacity="0.25" transform="rotate(0 383.5 307.6)" filter="url(#bl2)"/><rect x="310.5" y="270.0" width="9" height="6" rx="3.0" fill="#c0b0f8" opacity="0.3" transform="rotate(0 315 273)" filter="url(#bl1_5)"/><rect x="237.0" y="305.0" width="12" height="12" rx="6.0" fill="#f8c0d8" opacity="0.35" transform="rotate(0 243 311)" filter="url(#bl3)"/><rect x="292.8" y="326.5" width="10" height="7" rx="3.5" fill="#f8c8d8" opacity="0.3" transform="rotate(0 297.8 330)" filter="url(#bl2)"/><rect x="356.0" y="287.0" width="6" height="6" rx="3.0" fill="#80d8f0" opacity="0.35" transform="rotate(0 359 290)" filter="url(#bl1_5)"/><rect x="225.0" y="337.5" width="6" height="5" rx="2.5" fill="#b0e0f0" opacity="0.35" transform="rotate(0 228 340)" filter="url(#bl1_5)"/><rect x="213.2" y="410.5" width="1.5" height="3" rx="0.8" fill="#3060f0" opacity="0.8" transform="rotate(0 214 412)" filter="url(#bl0_2)"/><rect x="224.0" y="452.5" width="2" height="5" rx="1.0" fill="#f090b0" opacity="0.5" transform="rotate(10 225 455)" filter="url(#bl0_4)"/><rect x="395.0" y="260.0" width="6" height="4" rx="2.0" fill="#f0c0e0" opacity="0.3" transform="rotate(0 398 262)" filter="url(#bl1)"/><rect x="266.0" y="422.0" width="8" height="6" rx="3.0" fill="#f8d0e0" opacity="0.25" transform="rotate(0 270 425)" filter="url(#bl2)"/></g>
  <circle cx="91" cy="344" r="46.5" fill="#6a3a8c"/>
  <circle cx="91" cy="344" r="40" fill="#743f97"/>
  <path d="M57 357 L70 348 L79 356 L70 370 L66 362 Z" fill="#e8436d"/>
  <path d="M70 348 L79 356 L70 370 L72 356 Z" fill="#c93358"/>
  <path d="M125 357 L112 348 L103 356 L112 370 L116 362 Z" fill="#e8436d"/>
  <path d="M112 348 L103 356 L112 370 L110 356 Z" fill="#c93358"/>
  <rect x="85" y="356" width="12" height="16" fill="#e2a41a"/>
  <circle cx="91" cy="331" r="29" fill="#e8ad1d"/>
  <circle cx="91" cy="331" r="24.5" fill="#f0c030"/>
  <path d="M91 316.5 L94.5 326.2 L104.8 326.5 L96.7 332.8 L99.6 342.7 L91 336.9 L82.4 342.7 L85.3 332.8 L77.2 326.5 L87.5 326.2 Z" fill="#fad936"/>
  <rect x="82" y="369" width="18" height="5" fill="#efba2b"/>
  <path d="M77.5 374 H104 V391 H77.5 Z" fill="#f1b72a"/>
  <rect x="83" y="377.5" width="16" height="9" rx="1.5" fill="#fbe17f"/>
  <path d="M87 380.5 H95 M87 383.5 H95" stroke="#dba21d" stroke-width="1.1"/>
  <g fill="#fde673">
    <path d="M60.5 304 Q61.3 308.2 65.5 309 Q61.3 309.8 60.5 314 Q59.7 309.8 55.5 309 Q59.7 308.2 60.5 304 Z"/>
    <path d="M108 303 Q109 309 115 310 Q109 311 108 317 Q107 311 101 310 Q107 309 108 303 Z"/>
    <path d="M117 314 Q117.6 317.4 121 318 Q117.6 318.6 117 322 Q116.4 318.6 113 318 Q116.4 317.4 117 314 Z"/>
    <path d="M66 330 Q66.8 334.2 71 335 Q66.8 335.8 66 340 Q65.2 335.8 61 335 Q65.2 334.2 66 330 Z"/>
  </g>
</svg>
<div class="card pn" style="left:12px;top:660px;width:323px;height:360px">
  <div class="pbar"></div>
  <div class="pt">Recent Tasks</div>
  <svg style="left:16px;top:20px" width="8" height="8" viewBox="0 0 8 8"><path d="M0.5 0.5 L7.5 7.5 M7.5 0.5 L0.5 7.5" stroke="#8390b3" stroke-width="1.15"/></svg>
  <svg style="left:36px;top:22px" width="8" height="5" viewBox="0 0 8 5"><path d="M0.6 4.4 L4 1 L7.4 4.4" fill="none" stroke="#8390b3" stroke-width="1.15"/></svg>
  <div class="sep" style="top:46px"></div>
<svg style="left:17.8px;top:59.0px" width="9" height="10" viewBox="0 0 9 10"><path d="M0.3 2 H8.7 M3 2 V0.7 H6 V2 M1.4 2 L1.9 9.3 H7.1 L7.6 2" fill="none" stroke="#6e7ca3" stroke-width="1.1" stroke-linejoin="round"/></svg><svg style="left:37px;top:59.0px" width="10" height="10" viewBox="0 0 10 10"><path d="M5 1.2 H1.5 A0.8 0.8 0 0 0 0.7 2 V8.5 A0.8 0.8 0 0 0 1.5 9.3 H8 A0.8 0.8 0 0 0 8.8 8.5 V5" fill="none" stroke="#6e7ca3" stroke-width="1.1"/><path d="M3.5 6.5 L3.8 4.8 L7.8 0.8 L9.2 2.2 L5.2 6.2 Z" fill="none" stroke="#6e7ca3" stroke-width="1.1" stroke-linejoin="round"/></svg><div class="t tk" style="top:60.1px">..Do Even More</div><div class="abs" style="left:299.3px;top:61.0px;width:13.3px;height:13px;background:#6e57e0;border-radius:1px"></div><svg style="left:302.5px;top:65.0px" width="7" height="6" viewBox="0 0 7 6"><path d="M0.8 3 L2.7 4.8 L6.2 1" fill="none" stroke="#fff" stroke-width="1.4"/></svg><div class="sep" style="top:83.9px"></div><svg style="left:17.8px;top:96.9px" width="9" height="10" viewBox="0 0 9 10"><path d="M0.3 2 H8.7 M3 2 V0.7 H6 V2 M1.4 2 L1.9 9.3 H7.1 L7.6 2" fill="none" stroke="#6e7ca3" stroke-width="1.1" stroke-linejoin="round"/></svg><svg style="left:37px;top:96.9px" width="10" height="10" viewBox="0 0 10 10"><path d="M5 1.2 H1.5 A0.8 0.8 0 0 0 0.7 2 V8.5 A0.8 0.8 0 0 0 1.5 9.3 H8 A0.8 0.8 0 0 0 8.8 8.5 V5" fill="none" stroke="#6e7ca3" stroke-width="1.1"/><path d="M3.5 6.5 L3.8 4.8 L7.8 0.8 L9.2 2.2 L5.2 6.2 Z" fill="none" stroke="#6e7ca3" stroke-width="1.1" stroke-linejoin="round"/></svg><div class="t tk" style="top:98.0px">Do something more</div><div class="abs" style="left:299.3px;top:98.9px;width:13.3px;height:13px;background:#e7e9f1;border-radius:1px"></div><div class="sep" style="top:121.8px"></div><svg style="left:17.8px;top:134.8px" width="9" height="10" viewBox="0 0 9 10"><path d="M0.3 2 H8.7 M3 2 V0.7 H6 V2 M1.4 2 L1.9 9.3 H7.1 L7.6 2" fill="none" stroke="#6e7ca3" stroke-width="1.1" stroke-linejoin="round"/></svg><svg style="left:37px;top:134.8px" width="10" height="10" viewBox="0 0 10 10"><path d="M5 1.2 H1.5 A0.8 0.8 0 0 0 0.7 2 V8.5 A0.8 0.8 0 0 0 1.5 9.3 H8 A0.8 0.8 0 0 0 8.8 8.5 V5" fill="none" stroke="#6e7ca3" stroke-width="1.1"/><path d="M3.5 6.5 L3.8 4.8 L7.8 0.8 L9.2 2.2 L5.2 6.2 Z" fill="none" stroke="#6e7ca3" stroke-width="1.1" stroke-linejoin="round"/></svg><div class="t tk" style="top:135.9px">Update More More Files</div><div class="abs" style="left:299.3px;top:136.8px;width:13.3px;height:13px;background:#e7e9f1;border-radius:1px"></div><div class="sep" style="top:159.7px"></div><svg style="left:17.8px;top:172.7px" width="9" height="10" viewBox="0 0 9 10"><path d="M0.3 2 H8.7 M3 2 V0.7 H6 V2 M1.4 2 L1.9 9.3 H7.1 L7.6 2" fill="none" stroke="#6e7ca3" stroke-width="1.1" stroke-linejoin="round"/></svg><svg style="left:37px;top:172.7px" width="10" height="10" viewBox="0 0 10 10"><path d="M5 1.2 H1.5 A0.8 0.8 0 0 0 0.7 2 V8.5 A0.8 0.8 0 0 0 1.5 9.3 H8 A0.8 0.8 0 0 0 8.8 8.5 V5" fill="none" stroke="#6e7ca3" stroke-width="1.1"/><path d="M3.5 6.5 L3.8 4.8 L7.8 0.8 L9.2 2.2 L5.2 6.2 Z" fill="none" stroke="#6e7ca3" stroke-width="1.1" stroke-linejoin="round"/></svg><div class="t tk" style="top:173.8px">Complete Projects</div><div class="abs" style="left:299.3px;top:174.7px;width:13.3px;height:13px;background:#e7e9f1;border-radius:1px"></div><div class="sep" style="top:197.6px"></div><svg style="left:17.8px;top:210.6px" width="9" height="10" viewBox="0 0 9 10"><path d="M0.3 2 H8.7 M3 2 V0.7 H6 V2 M1.4 2 L1.9 9.3 H7.1 L7.6 2" fill="none" stroke="#6e7ca3" stroke-width="1.1" stroke-linejoin="round"/></svg><svg style="left:37px;top:210.6px" width="10" height="10" viewBox="0 0 10 10"><path d="M5 1.2 H1.5 A0.8 0.8 0 0 0 0.7 2 V8.5 A0.8 0.8 0 0 0 1.5 9.3 H8 A0.8 0.8 0 0 0 8.8 8.5 V5" fill="none" stroke="#6e7ca3" stroke-width="1.1"/><path d="M3.5 6.5 L3.8 4.8 L7.8 0.8 L9.2 2.2 L5.2 6.2 Z" fill="none" stroke="#6e7ca3" stroke-width="1.1" stroke-linejoin="round"/></svg><div class="t tk" style="top:211.7px">Finish Something</div><div class="abs" style="left:299.3px;top:212.6px;width:13.3px;height:13px;background:#6e57e0;border-radius:1px"></div><svg style="left:302.5px;top:216.6px" width="7" height="6" viewBox="0 0 7 6"><path d="M0.8 3 L2.7 4.8 L6.2 1" fill="none" stroke="#fff" stroke-width="1.4"/></svg><div class="sep" style="top:235.5px"></div><svg style="left:17.8px;top:248.5px" width="9" height="10" viewBox="0 0 9 10"><path d="M0.3 2 H8.7 M3 2 V0.7 H6 V2 M1.4 2 L1.9 9.3 H7.1 L7.6 2" fill="none" stroke="#6e7ca3" stroke-width="1.1" stroke-linejoin="round"/></svg><svg style="left:37px;top:248.5px" width="10" height="10" viewBox="0 0 10 10"><path d="M5 1.2 H1.5 A0.8 0.8 0 0 0 0.7 2 V8.5 A0.8 0.8 0 0 0 1.5 9.3 H8 A0.8 0.8 0 0 0 8.8 8.5 V5" fill="none" stroke="#6e7ca3" stroke-width="1.1"/><path d="M3.5 6.5 L3.8 4.8 L7.8 0.8 L9.2 2.2 L5.2 6.2 Z" fill="none" stroke="#6e7ca3" stroke-width="1.1" stroke-linejoin="round"/></svg><div class="t tk" style="top:249.6px">Update New Projects</div><div class="abs" style="left:299.3px;top:250.5px;width:13.3px;height:13px;background:#e7e9f1;border-radius:1px"></div><div class="sep" style="top:273.4px"></div><svg style="left:17.8px;top:286.4px" width="9" height="10" viewBox="0 0 9 10"><path d="M0.3 2 H8.7 M3 2 V0.7 H6 V2 M1.4 2 L1.9 9.3 H7.1 L7.6 2" fill="none" stroke="#6e7ca3" stroke-width="1.1" stroke-linejoin="round"/></svg><svg style="left:37px;top:286.4px" width="10" height="10" viewBox="0 0 10 10"><path d="M5 1.2 H1.5 A0.8 0.8 0 0 0 0.7 2 V8.5 A0.8 0.8 0 0 0 1.5 9.3 H8 A0.8 0.8 0 0 0 8.8 8.5 V5" fill="none" stroke="#6e7ca3" stroke-width="1.1"/><path d="M3.5 6.5 L3.8 4.8 L7.8 0.8 L9.2 2.2 L5.2 6.2 Z" fill="none" stroke="#6e7ca3" stroke-width="1.1" stroke-linejoin="round"/></svg><div class="t tk" style="top:287.5px">Finish Something</div><div class="abs" style="left:299.3px;top:288.4px;width:13.3px;height:13px;background:#e7e9f1;border-radius:1px"></div><div class="sep" style="top:311.3px"></div><svg style="left:17.8px;top:324.3px" width="9" height="10" viewBox="0 0 9 10"><path d="M0.3 2 H8.7 M3 2 V0.7 H6 V2 M1.4 2 L1.9 9.3 H7.1 L7.6 2" fill="none" stroke="#6e7ca3" stroke-width="1.1" stroke-linejoin="round"/></svg><svg style="left:37px;top:324.3px" width="10" height="10" viewBox="0 0 10 10"><path d="M5 1.2 H1.5 A0.8 0.8 0 0 0 0.7 2 V8.5 A0.8 0.8 0 0 0 1.5 9.3 H8 A0.8 0.8 0 0 0 8.8 8.5 V5" fill="none" stroke="#6e7ca3" stroke-width="1.1"/><path d="M3.5 6.5 L3.8 4.8 L7.8 0.8 L9.2 2.2 L5.2 6.2 Z" fill="none" stroke="#6e7ca3" stroke-width="1.1" stroke-linejoin="round"/></svg><div class="t tk" style="top:325.4px">Add New Projects</div><div class="abs" style="left:299.3px;top:326.3px;width:13.3px;height:13px;background:#e7e9f1;border-radius:1px"></div></div>
<div class="card pn" style="left:342px;top:660px;width:323px;height:360px">
  <div class="pbar"></div>
  <div class="pt">New Users</div>
  <svg style="left:16px;top:20px" width="8" height="8" viewBox="0 0 8 8"><path d="M0.5 0.5 L7.5 7.5 M7.5 0.5 L0.5 7.5" stroke="#8390b3" stroke-width="1.15"/></svg>
  <svg style="left:36px;top:22px" width="8" height="5" viewBox="0 0 8 5"><path d="M0.6 4.4 L4 1 L7.4 4.4" fill="none" stroke="#8390b3" stroke-width="1.15"/></svg>
  <div class="sep" style="top:46px"></div>
<svg style="left:17px;top:71.0px" width="13" height="10" viewBox="0 0 13 10"><rect x="0.6" y="0.6" width="11.8" height="8.8" rx="1" fill="none" stroke="#6e7ca3" stroke-width="1.2"/><path d="M1 1.3 L6.5 5.3 L12 1.3" fill="none" stroke="#6e7ca3" stroke-width="1.2"/></svg><svg style="left:36.8px;top:69.8px" width="13" height="13" viewBox="0 0 13 13"><path d="M5.4 0.8 H7.6 L8 2.4 L9.3 3.1 L10.9 2.6 L12 4.5 L10.8 5.6 V7.4 L12 8.5 L10.9 10.4 L9.3 9.9 L8 10.6 L7.6 12.2 H5.4 L5 10.6 L3.7 9.9 L2.1 10.4 L1 8.5 L2.2 7.4 V5.6 L1 4.5 L2.1 2.6 L3.7 3.1 L5 2.4 Z" fill="none" stroke="#6e7ca3" stroke-width="1.1" stroke-linejoin="round"/><circle cx="6.5" cy="6.5" r="1.8" fill="none" stroke="#6e7ca3" stroke-width="1.1"/></svg><svg style="left:54.8px;top:70.0px" width="11" height="13" viewBox="0 0 11 13"><path d="M0.4 2.4 H10.6 M3.6 2.4 V0.8 H7.4 V2.4 M1.6 2.4 L2.1 12 H8.9 L9.4 2.4 M4.2 5 V9.5 M6.8 5 V9.5" fill="none" stroke="#6e7ca3" stroke-width="1.15" stroke-linejoin="round"/></svg><div class="t un" style="top:61.0px">Lillian Blake</div><div class="t ui" style="top:77.8px">User ID: #1234</div><div class="sep" style="top:100.6px"></div><svg style="left:17px;top:125.6px" width="13" height="10" viewBox="0 0 13 10"><rect x="0.6" y="0.6" width="11.8" height="8.8" rx="1" fill="none" stroke="#6e7ca3" stroke-width="1.2"/><path d="M1 1.3 L6.5 5.3 L12 1.3" fill="none" stroke="#6e7ca3" stroke-width="1.2"/></svg><svg style="left:36.8px;top:124.4px" width="13" height="13" viewBox="0 0 13 13"><path d="M5.4 0.8 H7.6 L8 2.4 L9.3 3.1 L10.9 2.6 L12 4.5 L10.8 5.6 V7.4 L12 8.5 L10.9 10.4 L9.3 9.9 L8 10.6 L7.6 12.2 H5.4 L5 10.6 L3.7 9.9 L2.1 10.4 L1 8.5 L2.2 7.4 V5.6 L1 4.5 L2.1 2.6 L3.7 3.1 L5 2.4 Z" fill="none" stroke="#6e7ca3" stroke-width="1.1" stroke-linejoin="round"/><circle cx="6.5" cy="6.5" r="1.8" fill="none" stroke="#6e7ca3" stroke-width="1.1"/></svg><svg style="left:54.8px;top:124.6px" width="11" height="13" viewBox="0 0 11 13"><path d="M0.4 2.4 H10.6 M3.6 2.4 V0.8 H7.4 V2.4 M1.6 2.4 L2.1 12 H8.9 L9.4 2.4 M4.2 5 V9.5 M6.8 5 V9.5" fill="none" stroke="#6e7ca3" stroke-width="1.15" stroke-linejoin="round"/></svg><div class="t un" style="top:115.6px">Tim Gray</div><div class="t ui" style="top:132.4px">User ID: #1234</div><div class="sep" style="top:155.2px"></div><svg style="left:17px;top:180.2px" width="13" height="10" viewBox="0 0 13 10"><rect x="0.6" y="0.6" width="11.8" height="8.8" rx="1" fill="none" stroke="#6e7ca3" stroke-width="1.2"/><path d="M1 1.3 L6.5 5.3 L12 1.3" fill="none" stroke="#6e7ca3" stroke-width="1.2"/></svg><svg style="left:36.8px;top:179.0px" width="13" height="13" viewBox="0 0 13 13"><path d="M5.4 0.8 H7.6 L8 2.4 L9.3 3.1 L10.9 2.6 L12 4.5 L10.8 5.6 V7.4 L12 8.5 L10.9 10.4 L9.3 9.9 L8 10.6 L7.6 12.2 H5.4 L5 10.6 L3.7 9.9 L2.1 10.4 L1 8.5 L2.2 7.4 V5.6 L1 4.5 L2.1 2.6 L3.7 3.1 L5 2.4 Z" fill="none" stroke="#6e7ca3" stroke-width="1.1" stroke-linejoin="round"/><circle cx="6.5" cy="6.5" r="1.8" fill="none" stroke="#6e7ca3" stroke-width="1.1"/></svg><svg style="left:54.8px;top:179.2px" width="11" height="13" viewBox="0 0 11 13"><path d="M0.4 2.4 H10.6 M3.6 2.4 V0.8 H7.4 V2.4 M1.6 2.4 L2.1 12 H8.9 L9.4 2.4 M4.2 5 V9.5 M6.8 5 V9.5" fill="none" stroke="#6e7ca3" stroke-width="1.15" stroke-linejoin="round"/></svg><div class="t un" style="top:170.2px">Rose Nash</div><div class="t ui" style="top:187.0px">User ID: #1234</div><div class="sep" style="top:209.8px"></div><svg style="left:17px;top:234.8px" width="13" height="10" viewBox="0 0 13 10"><rect x="0.6" y="0.6" width="11.8" height="8.8" rx="1" fill="none" stroke="#6e7ca3" stroke-width="1.2"/><path d="M1 1.3 L6.5 5.3 L12 1.3" fill="none" stroke="#6e7ca3" stroke-width="1.2"/></svg><svg style="left:36.8px;top:233.6px" width="13" height="13" viewBox="0 0 13 13"><path d="M5.4 0.8 H7.6 L8 2.4 L9.3 3.1 L10.9 2.6 L12 4.5 L10.8 5.6 V7.4 L12 8.5 L10.9 10.4 L9.3 9.9 L8 10.6 L7.6 12.2 H5.4 L5 10.6 L3.7 9.9 L2.1 10.4 L1 8.5 L2.2 7.4 V5.6 L1 4.5 L2.1 2.6 L3.7 3.1 L5 2.4 Z" fill="none" stroke="#6e7ca3" stroke-width="1.1" stroke-linejoin="round"/><circle cx="6.5" cy="6.5" r="1.8" fill="none" stroke="#6e7ca3" stroke-width="1.1"/></svg><svg style="left:54.8px;top:233.8px" width="11" height="13" viewBox="0 0 11 13"><path d="M0.4 2.4 H10.6 M3.6 2.4 V0.8 H7.4 V2.4 M1.6 2.4 L2.1 12 H8.9 L9.4 2.4 M4.2 5 V9.5 M6.8 5 V9.5" fill="none" stroke="#6e7ca3" stroke-width="1.15" stroke-linejoin="round"/></svg><div class="t un" style="top:224.8px">Justin Parr</div><div class="t ui" style="top:241.6px">User ID: #1234</div><div class="sep" style="top:264.4px"></div><svg style="left:17px;top:289.4px" width="13" height="10" viewBox="0 0 13 10"><rect x="0.6" y="0.6" width="11.8" height="8.8" rx="1" fill="none" stroke="#6e7ca3" stroke-width="1.2"/><path d="M1 1.3 L6.5 5.3 L12 1.3" fill="none" stroke="#6e7ca3" stroke-width="1.2"/></svg><svg style="left:36.8px;top:288.2px" width="13" height="13" viewBox="0 0 13 13"><path d="M5.4 0.8 H7.6 L8 2.4 L9.3 3.1 L10.9 2.6 L12 4.5 L10.8 5.6 V7.4 L12 8.5 L10.9 10.4 L9.3 9.9 L8 10.6 L7.6 12.2 H5.4 L5 10.6 L3.7 9.9 L2.1 10.4 L1 8.5 L2.2 7.4 V5.6 L1 4.5 L2.1 2.6 L3.7 3.1 L5 2.4 Z" fill="none" stroke="#6e7ca3" stroke-width="1.1" stroke-linejoin="round"/><circle cx="6.5" cy="6.5" r="1.8" fill="none" stroke="#6e7ca3" stroke-width="1.1"/></svg><svg style="left:54.8px;top:288.4px" width="11" height="13" viewBox="0 0 11 13"><path d="M0.4 2.4 H10.6 M3.6 2.4 V0.8 H7.4 V2.4 M1.6 2.4 L2.1 12 H8.9 L9.4 2.4 M4.2 5 V9.5 M6.8 5 V9.5" fill="none" stroke="#6e7ca3" stroke-width="1.15" stroke-linejoin="round"/></svg><div class="t un" style="top:279.4px">Vanessa Quinn</div><div class="t ui" style="top:296.2px">User ID: #1234</div><div class="sep" style="top:319.0px"></div><svg style="left:17px;top:344.0px" width="13" height="10" viewBox="0 0 13 10"><rect x="0.6" y="0.6" width="11.8" height="8.8" rx="1" fill="none" stroke="#6e7ca3" stroke-width="1.2"/><path d="M1 1.3 L6.5 5.3 L12 1.3" fill="none" stroke="#6e7ca3" stroke-width="1.2"/></svg><svg style="left:36.8px;top:342.8px" width="13" height="13" viewBox="0 0 13 13"><path d="M5.4 0.8 H7.6 L8 2.4 L9.3 3.1 L10.9 2.6 L12 4.5 L10.8 5.6 V7.4 L12 8.5 L10.9 10.4 L9.3 9.9 L8 10.6 L7.6 12.2 H5.4 L5 10.6 L3.7 9.9 L2.1 10.4 L1 8.5 L2.2 7.4 V5.6 L1 4.5 L2.1 2.6 L3.7 3.1 L5 2.4 Z" fill="none" stroke="#6e7ca3" stroke-width="1.1" stroke-linejoin="round"/><circle cx="6.5" cy="6.5" r="1.8" fill="none" stroke="#6e7ca3" stroke-width="1.1"/></svg><svg style="left:54.8px;top:343.0px" width="11" height="13" viewBox="0 0 11 13"><path d="M0.4 2.4 H10.6 M3.6 2.4 V0.8 H7.4 V2.4 M1.6 2.4 L2.1 12 H8.9 L9.4 2.4 M4.2 5 V9.5 M6.8 5 V9.5" fill="none" stroke="#6e7ca3" stroke-width="1.15" stroke-linejoin="round"/></svg><div class="t un" style="top:334.0px">Steven Roberts</div><div class="t ui" style="top:350.8px">User ID: #1234</div></div>
<div class="card pn" style="left:672px;top:660px;width:323px;height:360px">
  <div class="pbar"></div>
  <div class="pt">Browsing Status</div>
  <svg style="left:16px;top:20px" width="8" height="8" viewBox="0 0 8 8"><path d="M0.5 0.5 L7.5 7.5 M7.5 0.5 L0.5 7.5" stroke="#8390b3" stroke-width="1.15"/></svg>
  <svg style="left:36px;top:22px" width="8" height="5" viewBox="0 0 8 5"><path d="M0.6 4.4 L4 1 L7.4 4.4" fill="none" stroke="#8390b3" stroke-width="1.15"/></svg>
  <div class="sep" style="top:46px"></div>
<div class="t bp" style="left:19.8px;top:69.6px">80%</div><div class="t bn" style="top:69.6px">Chrome</div><div class="abs" style="left:20px;top:89.5px;width:283px;height:6.3px;border-radius:3.2px;background:#dfe1f0;overflow:hidden"><div class="abs" style="left:19.8%;top:0;right:0;bottom:0;background:#6f55e0"></div></div><div class="t bp" style="left:19.8px;top:119.1px">70%</div><div class="t bn" style="top:119.1px">Firefox</div><div class="abs" style="left:20px;top:139.0px;width:283px;height:6.3px;border-radius:3.2px;background:#dfe1f0;overflow:hidden"><div class="abs" style="left:30%;top:0;right:0;bottom:0;background:#f7478b"></div></div><div class="t bp" style="left:19.8px;top:168.6px">80%</div><div class="t bn" style="top:168.6px">Safari</div><div class="abs" style="left:20px;top:188.5px;width:283px;height:6.3px;border-radius:3.2px;background:#dfe1f0;overflow:hidden"><div class="abs" style="left:35%;top:0;right:0;bottom:0;background:#f5a425"></div></div><div class="t bp" style="left:19.8px;top:218.1px">80%</div><div class="t bn" style="top:218.1px">Opera</div><div class="abs" style="left:20px;top:238.0px;width:283px;height:6.3px;border-radius:3.2px;background:#dfe1f0;overflow:hidden"><div class="abs" style="left:20%;top:0;right:0;bottom:0;background:#f0304f"></div></div><div class="t bp" style="left:19.8px;top:267.6px">70%</div><div class="t bn" style="top:267.6px">UC Browser</div><div class="abs" style="left:20px;top:287.5px;width:283px;height:6.3px;border-radius:3.2px;background:#dfe1f0;overflow:hidden"><div class="abs" style="left:40%;top:0;right:0;bottom:0;background:#28b571"></div></div><div class="t bp" style="left:19.8px;top:317.1px">50%</div><div class="t bn" style="top:317.1px">Internet Explore</div><div class="abs" style="left:20px;top:337.0px;width:283px;height:6.3px;border-radius:3.2px;background:#dfe1f0;overflow:hidden"><div class="abs" style="left:50%;top:0;right:0;bottom:0;background:#1cb2ef"></div></div></div>
<div class="abs" style="left:1010.5px;top:55px;width:189.5px;height:945px;background:#fff;box-shadow:-1px 0 3px rgba(140,150,200,.35)">
  <div class="t" style="left:0;width:194px;text-align:center;top:67.5px;font-size:11px;font-weight:bold;color:#53638d">Sonia Rees</div>
  <div class="t" style="left:0;width:194px;text-align:center;top:82.8px;font-size:10px;color:#9ca7c4">Web Developer</div>
  <div class="abs" style="left:0;top:105.5px;width:190px;height:40px;background:#e9ecf7"></div>
  <div class="t sm" style="top:121.0px">Dashboard</div>
  <svg style="left:154px;top:120px" width="12" height="12.5" viewBox="0 0 12 12.5"><path d="M0.8 5 L6 0.8 L11.2 5 V11.8 H0.8 Z M4.2 11.8 V7.6 H7.8 V11.8" fill="none" stroke="#5e6d96" stroke-width="1.3" stroke-linejoin="round"/></svg>
  <svg style="left:15.5px;top:123.5px" width="7" height="4.5" viewBox="0 0 7 4.5"><path d="M0.5 0.6 L3.5 3.8 L6.5 0.6" fill="none" stroke="#6e7ca3" stroke-width="1.1"/></svg>
<div class="abs" style="left:0;top:145.4px;width:190px;height:33.6px;background:#f6f7fc"></div><div class="sep" style="left:0;width:190px;top:178.6px"></div><div class="t ss" style="top:156.7px">Dashboard 01</div><svg style="left:147px;top:158.4px" width="5" height="7" viewBox="0 0 5 7"><path d="M4.5 0.5 L1 3.5 L4.5 6.5" fill="none" stroke="#b5bdd6" stroke-width="1.3"/><path d="M3.5 2 L2 3.5 L3.5 5" fill="#b5bdd6"/></svg><div class="sep" style="left:0;width:190px;top:212.2px"></div><div class="t ss" style="top:190.3px">Dashboard 02</div><svg style="left:147px;top:192.0px" width="5" height="7" viewBox="0 0 5 7"><path d="M4.5 0.5 L1 3.5 L4.5 6.5" fill="none" stroke="#b5bdd6" stroke-width="1.3"/><path d="M3.5 2 L2 3.5 L3.5 5" fill="#b5bdd6"/></svg><div class="sep" style="left:0;width:190px;top:245.8px"></div><div class="t ss" style="top:223.9px">Dashboard 03</div><svg style="left:147px;top:225.6px" width="5" height="7" viewBox="0 0 5 7"><path d="M4.5 0.5 L1 3.5 L4.5 6.5" fill="none" stroke="#b5bdd6" stroke-width="1.3"/><path d="M3.5 2 L2 3.5 L3.5 5" fill="#b5bdd6"/></svg><div class="sep" style="left:0;width:190px;top:279.4px"></div><div class="t ss" style="top:257.5px">Dashboard 04</div><svg style="left:147px;top:259.2px" width="5" height="7" viewBox="0 0 5 7"><path d="M4.5 0.5 L1 3.5 L4.5 6.5" fill="none" stroke="#b5bdd6" stroke-width="1.3"/><path d="M3.5 2 L2 3.5 L3.5 5" fill="#b5bdd6"/></svg><div class="sep" style="left:0;width:190px;top:313.0px"></div><div class="t ss" style="top:291.1px">Dashboard 05</div><svg style="left:147px;top:292.8px" width="5" height="7" viewBox="0 0 5 7"><path d="M4.5 0.5 L1 3.5 L4.5 6.5" fill="none" stroke="#b5bdd6" stroke-width="1.3"/><path d="M3.5 2 L2 3.5 L3.5 5" fill="#b5bdd6"/></svg><div class="sep" style="left:0;width:190px;top:352.4px"></div><div class="t sm" style="top:328.3px">Widgets</div><svg style="left:153.5px;top:326.9px" width="13" height="13" viewBox="0 0 13 13" fill="none" stroke="#5e6d96" stroke-width="1.2" stroke-linejoin="round"><rect x="1" y="1" width="4.3" height="4.3" rx=".6"/><rect x="7.7" y="1" width="4.3" height="4.3" rx=".6"/><rect x="1" y="7.7" width="4.3" height="4.3" rx=".6"/><rect x="7.7" y="7.7" width="4.3" height="4.3" rx=".6"/></svg><div class="sep" style="left:0;width:190px;top:391.7px"></div><div class="t sm" style="top:367.6px">UI Elements</div><svg style="left:153.5px;top:366.2px" width="13" height="13" viewBox="0 0 13 13" fill="none" stroke="#5e6d96" stroke-width="1.2" stroke-linejoin="round"><path d="M6.5 0.8 L11.8 3.6 V9.4 L6.5 12.2 L1.2 9.4 V3.6 Z M1.2 3.6 L6.5 6.5 L11.8 3.6 M6.5 6.5 V12.2 M3.8 2.2 L9.2 5"/></svg><svg style="left:16.5px;top:369.7px" width="5" height="7" viewBox="0 0 5 7"><path d="M0.6 0.5 L4 3.5 L0.6 6.5" fill="none" stroke="#6e7ca3" stroke-width="1.1"/></svg><div class="sep" style="left:0;width:190px;top:431.0px"></div><div class="t sm" style="top:406.9px">Components</div><svg style="left:153.5px;top:405.5px" width="13" height="13" viewBox="0 0 13 13" fill="none" stroke="#5e6d96" stroke-width="1.2" stroke-linejoin="round"><path d="M6.5 1 L12 3.8 L6.5 6.6 L1 3.8 Z M1 6.5 L6.5 9.3 L12 6.5 M1 9.2 L6.5 12 L12 9.2"/></svg><svg style="left:16.5px;top:409.0px" width="5" height="7" viewBox="0 0 5 7"><path d="M0.6 0.5 L4 3.5 L0.6 6.5" fill="none" stroke="#6e7ca3" stroke-width="1.1"/></svg><div class="sep" style="left:0;width:190px;top:470.3px"></div><div class="t sm" style="top:446.2px">Advanced Elements</div><svg style="left:153.5px;top:444.8px" width="13" height="13" viewBox="0 0 13 13" fill="none" stroke="#5e6d96" stroke-width="1.2" stroke-linejoin="round"><circle cx="6.5" cy="6.5" r="5.7"/><path d="M8.8 4.2 L7.6 7.6 L4.2 8.8 L5.4 5.4 Z"/></svg><svg style="left:16.5px;top:448.3px" width="5" height="7" viewBox="0 0 5 7"><path d="M0.6 0.5 L4 3.5 L0.6 6.5" fill="none" stroke="#6e7ca3" stroke-width="1.1"/></svg><div class="sep" style="left:0;width:190px;top:509.6px"></div><div class="t sm" style="top:485.5px">Icons</div><svg style="left:153.5px;top:484.1px" width="13" height="13" viewBox="0 0 13 13" fill="none" stroke="#5e6d96" stroke-width="1.2" stroke-linejoin="round"><circle cx="6.5" cy="6.5" r="5.7"/><circle cx="6.5" cy="6.5" r="2.2"/></svg><svg style="left:16.5px;top:487.6px" width="5" height="7" viewBox="0 0 5 7"><path d="M0.6 0.5 L4 3.5 L0.6 6.5" fill="none" stroke="#6e7ca3" stroke-width="1.1"/></svg><div class="sep" style="left:0;width:190px;top:548.9px"></div><div class="t sm" style="top:524.8px">Forms</div><svg style="left:153.5px;top:523.4px" width="13" height="13" viewBox="0 0 13 13" fill="none" stroke="#5e6d96" stroke-width="1.2" stroke-linejoin="round"><path d="M1.8 0.8 H8 L11.2 4 V12.2 H1.8 Z M8 0.8 V4 H11.2 M4 7 H9 M4 9.5 H9"/></svg><svg style="left:16.5px;top:526.9px" width="5" height="7" viewBox="0 0 5 7"><path d="M0.6 0.5 L4 3.5 L0.6 6.5" fill="none" stroke="#6e7ca3" stroke-width="1.1"/></svg><div class="sep" style="left:0;width:190px;top:588.2px"></div><div class="t sm" style="top:564.1px">Charts</div><svg style="left:153.5px;top:562.7px" width="13" height="13" viewBox="0 0 13 13" fill="none" stroke="#5e6d96" stroke-width="1.2" stroke-linejoin="round"><circle cx="6.5" cy="5" r="4.2"/><path d="M4 8.4 L3.5 12.2 L6.5 10.8 L9.5 12.2 L9 8.4"/></svg><svg style="left:16.5px;top:566.2px" width="5" height="7" viewBox="0 0 5 7"><path d="M0.6 0.5 L4 3.5 L0.6 6.5" fill="none" stroke="#6e7ca3" stroke-width="1.1"/></svg><div class="sep" style="left:0;width:190px;top:627.5px"></div><div class="t sm" style="top:603.4px">Pages</div><svg style="left:153.5px;top:602.0px" width="13" height="13" viewBox="0 0 13 13" fill="none" stroke="#5e6d96" stroke-width="1.2" stroke-linejoin="round"><circle cx="6.5" cy="6.5" r="5.7"/><circle cx="6.5" cy="6.5" r="2.4"/><path d="M2.5 2.5 L4.8 4.8 M10.5 2.5 L8.2 4.8 M2.5 10.5 L4.8 8.2 M10.5 10.5 L8.2 8.2"/></svg><svg style="left:16.5px;top:605.5px" width="5" height="7" viewBox="0 0 5 7"><path d="M0.6 0.5 L4 3.5 L0.6 6.5" fill="none" stroke="#6e7ca3" stroke-width="1.1"/></svg><div class="sep" style="left:0;width:190px;top:666.8px"></div><div class="t sm" style="top:642.7px">E-Commerce</div><svg style="left:153.5px;top:641.3px" width="13" height="13" viewBox="0 0 13 13" fill="none" stroke="#5e6d96" stroke-width="1.2" stroke-linejoin="round"><path d="M0.5 1 H2.5 L4 8.5 H11 L12.3 3.2 H3"/><circle cx="4.8" cy="11.2" r=".9"/><circle cx="10" cy="11.2" r=".9"/></svg><svg style="left:16.5px;top:644.8px" width="5" height="7" viewBox="0 0 5 7"><path d="M0.6 0.5 L4 3.5 L0.6 6.5" fill="none" stroke="#6e7ca3" stroke-width="1.1"/></svg><div class="sep" style="left:0;width:190px;top:706.1px"></div><div class="t sm" style="top:682.0px">Custom Pages</div><svg style="left:153.5px;top:680.6px" width="13" height="13" viewBox="0 0 13 13" fill="none" stroke="#5e6d96" stroke-width="1.2" stroke-linejoin="round"><path d="M6.5 0.8 L11.8 3.6 V9.4 L6.5 12.2 L1.2 9.4 V3.6 Z M1.2 3.6 L6.5 6.5 L11.8 3.6 M6.5 6.5 V12.2 M1.2 9.4 L6.5 6.5 L11.8 9.4 M6.5 0.8 V6.5"/></svg><svg style="left:16.5px;top:684.1px" width="5" height="7" viewBox="0 0 5 7"><path d="M0.6 0.5 L4 3.5 L0.6 6.5" fill="none" stroke="#6e7ca3" stroke-width="1.1"/></svg></div>
<svg style="left:0;top:0" width="1200" height="1000" viewBox="0 0 1200 1000"><defs><filter id="soft" x="-5%" y="-5%" width="110%" height="110%"><feGaussianBlur stdDeviation="1.6"/></filter></defs><clipPath id="cls"><circle cx="1107" cy="91.5" r="23"/></clipPath><g clip-path="url(#cls)"><g transform="translate(1084.00,68.50) scale(0.4600)" filter="url(#soft)"><rect width="100" height="100" fill="#2a1c1a"/><rect x="62" y="0" width="38" height="100" fill="#5a3424"/><rect x="78" y="20" width="22" height="60" fill="#7a4a30"/>
<ellipse cx="48" cy="40" rx="30" ry="36" fill="#6e3424"/><path d="M18 40 Q20 85 30 95 L40 70 Z" fill="#5a2a1e"/>
<ellipse cx="50" cy="100" rx="36" ry="18" fill="#141012"/>
<rect x="42" y="60" width="16" height="22" fill="#e2b09a"/>
<ellipse cx="52" cy="47" rx="19" ry="25" fill="#f0c6b0"/>
<path d="M30 30 Q45 10 70 28 Q60 22 45 26 Q36 30 33 45 Z" fill="#7a3a28"/>
<path d="M42 60 Q52 68 62 60" stroke="#fff" stroke-width="3" fill="none"/><circle cx="44" cy="44" r="2" fill="#4a3028"/><circle cx="60" cy="44" r="2" fill="#4a3028"/></g></g><clipPath id="clh"><circle cx="72" cy="27" r="13.5"/></clipPath><g clip-path="url(#clh)"><g transform="translate(58.50,13.50) scale(0.2700)" filter="url(#soft)"><rect width="100" height="100" fill="#2a1c1a"/><rect x="62" y="0" width="38" height="100" fill="#5a3424"/><rect x="78" y="20" width="22" height="60" fill="#7a4a30"/>
<ellipse cx="48" cy="40" rx="30" ry="36" fill="#6e3424"/><path d="M18 40 Q20 85 30 95 L40 70 Z" fill="#5a2a1e"/>
<ellipse cx="50" cy="100" rx="36" ry="18" fill="#141012"/>
<rect x="42" y="60" width="16" height="22" fill="#e2b09a"/>
<ellipse cx="52" cy="47" rx="19" ry="25" fill="#f0c6b0"/>
<path d="M30 30 Q45 10 70 28 Q60 22 45 26 Q36 30 33 45 Z" fill="#7a3a28"/>
<path d="M42 60 Q52 68 62 60" stroke="#fff" stroke-width="3" fill="none"/><circle cx="44" cy="44" r="2" fill="#4a3028"/><circle cx="60" cy="44" r="2" fill="#4a3028"/></g></g><clipPath id="cl0"><circle cx="631.7" cy="733.4" r="16.7"/></clipPath><g clip-path="url(#cl0)"><g transform="translate(615.00,716.70) scale(0.3340)" filter="url(#soft)"><rect width="100" height="100" fill="#2c2622"/><rect x="0" y="0" width="45" height="100" fill="#6a6a56"/><rect x="8" y="30" width="30" height="55" fill="#7d7e6a"/>
<ellipse cx="52" cy="110" rx="42" ry="32" fill="#b8283a"/>
<rect x="42" y="62" width="18" height="20" fill="#8a5a48"/>
<ellipse cx="54" cy="46" rx="18" ry="24" fill="#b48670"/>
<path d="M34 40 Q34 14 56 14 Q76 16 74 42 Q70 26 56 26 Q40 28 38 46 Z" fill="#141010"/>
<path d="M38 56 Q40 74 54 76 Q68 74 70 56 Q64 66 54 66 Q44 66 38 56 Z" fill="#2a1e1a"/>
<rect x="40" y="42" width="8" height="3" fill="#3a2a24"/><rect x="58" y="42" width="8" height="3" fill="#3a2a24"/></g></g><clipPath id="cl1"><circle cx="631.7" cy="788.0" r="16.7"/></clipPath><g clip-path="url(#cl1)"><g transform="translate(615.00,771.30) scale(0.3340)" filter="url(#soft)"><rect width="100" height="100" fill="#a9a7a4"/><rect x="0" y="0" width="25" height="100" fill="#8e8d8c"/><rect x="75" y="0" width="25" height="100" fill="#9a9896"/>
<ellipse cx="50" cy="100" rx="34" ry="26" fill="#d8c4b4"/>
<path d="M22 40 Q22 10 50 10 Q78 10 78 40 L84 90 Q70 95 62 80 L38 80 Q30 95 16 90 Z" fill="#b0936a"/>
<rect x="42" y="62" width="16" height="20" fill="#e0bca4"/>
<ellipse cx="51" cy="46" rx="15" ry="21" fill="#e8cab4"/>
<path d="M34 36 Q40 18 56 20 Q66 24 68 40 Q60 28 48 28 Q40 30 34 36 Z" fill="#b8986c"/>
<circle cx="45" cy="44" r="1.8" fill="#6a5040"/><circle cx="57" cy="44" r="1.8" fill="#6a5040"/></g></g><clipPath id="cl2"><circle cx="631.7" cy="842.6" r="16.7"/></clipPath><g clip-path="url(#cl2)"><g transform="translate(615.00,825.90) scale(0.3340)" filter="url(#soft)"><rect width="100" height="100" fill="#1c3330"/><rect x="60" y="0" width="40" height="60" fill="#2a4a3a"/><rect x="0" y="30" width="30" height="50" fill="#0e1e22"/>
<ellipse cx="55" cy="108" rx="48" ry="34" fill="#c4d4e0"/>
<path d="M36 64 L48 96 L60 64 Z" fill="#d8a080"/>
<ellipse cx="52" cy="48" rx="17" ry="22" fill="#d4a284"/>
<path d="M32 36 Q34 12 54 12 Q74 12 72 34 Q66 22 52 24 Q38 26 36 40 Z" fill="#3a2c22"/><path d="M38 18 Q50 8 66 16" stroke="#d8c8b0" stroke-width="4" fill="none"/>
<rect x="36" y="40" width="13" height="8" rx="3" fill="#1e1e22"/><rect x="53" y="40" width="13" height="8" rx="3" fill="#1e1e22"/>
<ellipse cx="46" cy="78" rx="8" ry="10" fill="#d09a78"/></g></g><clipPath id="cl3"><circle cx="631.7" cy="897.2" r="16.7"/></clipPath><g clip-path="url(#cl3)"><g transform="translate(615.00,880.50) scale(0.3340)" filter="url(#soft)"><rect width="100" height="100" fill="#3e3836"/><rect x="0" y="50" width="100" height="50" fill="#2a2a2e"/>
<path d="M18 50 Q16 12 50 12 Q84 12 82 50 L86 86 Q60 96 50 80 Q40 96 14 86 Z" fill="#4a3626"/>
<ellipse cx="50" cy="104" rx="36" ry="22" fill="#1c2430"/>
<ellipse cx="53" cy="48" rx="16" ry="22" fill="#e0a482"/>
<path d="M32 40 Q40 18 62 22 Q72 28 70 44 Q60 30 46 32 Q38 36 34 48 Z" fill="#5a3e2a"/>
<circle cx="46" cy="46" r="1.8" fill="#4a3028"/><circle cx="59" cy="46" r="1.8" fill="#4a3028"/><path d="M46 60 Q53 64 60 60" stroke="#f4e8e0" stroke-width="2.5" fill="none"/></g></g><clipPath id="cl4"><circle cx="631.7" cy="951.8" r="16.7"/></clipPath><g clip-path="url(#cl4)"><g transform="translate(615.00,935.10) scale(0.3340)" filter="url(#soft)"><rect width="100" height="100" fill="#c4c5c8"/><rect x="60" y="0" width="40" height="100" fill="#b4b5b8"/>
<ellipse cx="50" cy="108" rx="36" ry="24" fill="#caa890"/>
<rect x="40" y="64" width="20" height="22" fill="#d4a88c"/>
<ellipse cx="50" cy="50" rx="19" ry="25" fill="#dcb092"/>
<path d="M28 42 Q26 14 50 14 Q76 14 72 42 Q68 26 50 26 Q34 26 30 46 Z" fill="#5a4030"/>
<rect x="34" y="42" width="14" height="9" rx="2" fill="none" stroke="#2a2220" stroke-width="2.5"/><rect x="52" y="42" width="14" height="9" rx="2" fill="none" stroke="#2a2220" stroke-width="2.5"/>
<path d="M36 62 Q40 78 50 78 Q60 78 64 62 Q58 70 50 70 Q42 70 36 62 Z" fill="#8a6450"/><rect x="46" y="62" width="8" height="4" fill="#3a2a24"/></g></g><clipPath id="cl5"><circle cx="631.7" cy="1006.4" r="16.7"/></clipPath><g clip-path="url(#cl5)"><g transform="translate(615.00,989.70) scale(0.3340)" filter="url(#soft)"><rect width="100" height="100" fill="#8a7a5a"/>
<path d="M20 50 Q18 10 50 10 Q82 10 80 50 L82 90 L18 90 Z" fill="#5a4030"/>
<ellipse cx="50" cy="52" rx="17" ry="22" fill="#d8ac90"/></g></g></svg>
</body></html>
